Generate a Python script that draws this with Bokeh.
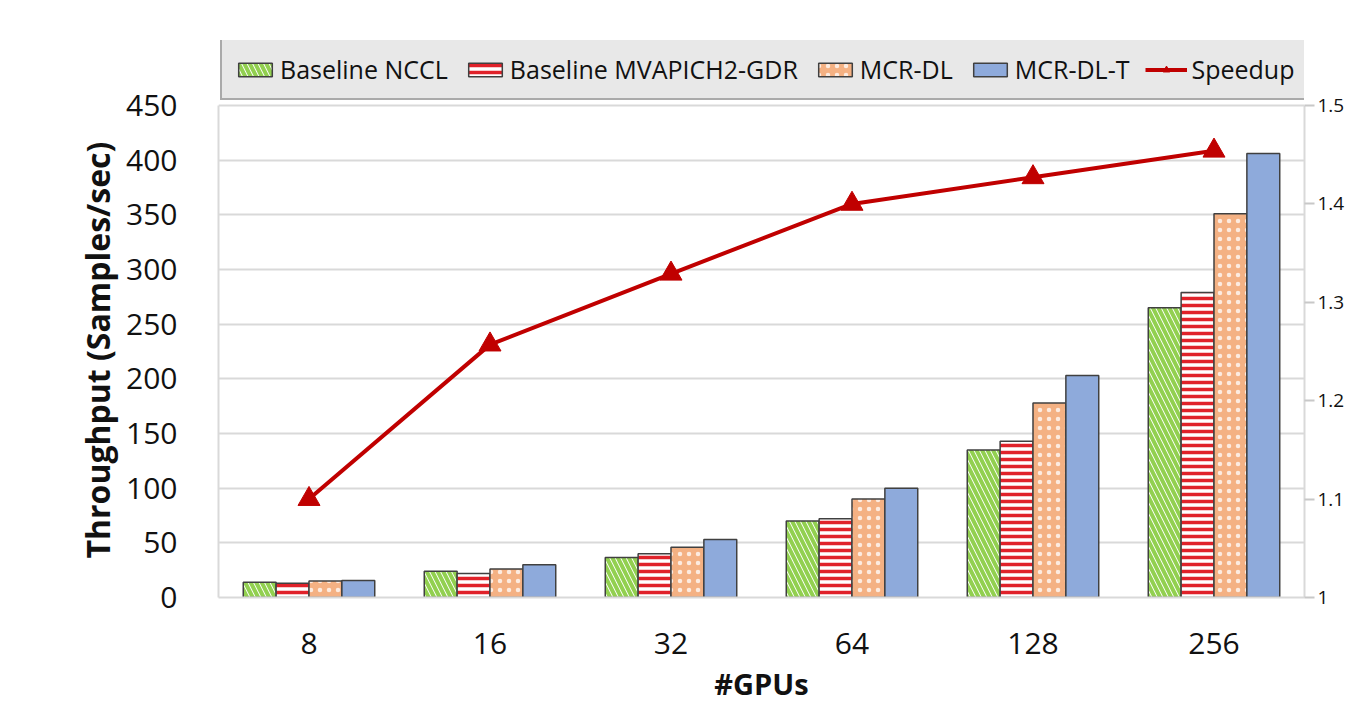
from bokeh.plotting import figure
from bokeh.models import (ColumnDataSource, FactorRange, Range1d, LinearAxis, FixedTicker,
                          Legend, LegendItem, Title)
from bokeh.transform import dodge
from bokeh.embed import file_html
from bokeh.resources import INLINE

gpus = ["8", "16", "32", "64", "128", "256"]
nccl = [14, 24, 36.5, 70, 135, 265]
mvapich = [13, 22, 40, 72, 143, 279]
mcrdl = [15, 26, 46, 90, 178, 351]
mcrdlt = [15.5, 30, 53, 100, 203, 406]
speedup = [1.10, 1.257, 1.329, 1.40, 1.427, 1.454]
y_ticks = [0, 50, 100, 150, 200, 250, 300, 350, 400, 450]
speedup_ticks = [1.0, 1.1, 1.2, 1.3, 1.4, 1.5]
labels = ["Baseline NCCL", "Baseline MVAPICH2-GDR", "MCR-DL", "MCR-DL-T", "Speedup"]
y_title = "Throughput (Samples/sec)"
x_title = "#GPUs"

src = ColumnDataSource(dict(g=gpus, nccl=nccl, mvapich=mvapich, mcrdl=mcrdl,
                            mcrdlt=mcrdlt, speedup=speedup))

FONT = "Open Sans"
W = 0.1816

# layout (pixels): axes area 492 px tall, extra 65 px above it for the legend
AXIS_PX, EXTRA_PX = 492, 65
Y0, Y1 = y_ticks[0], y_ticks[-1]
S0, S1 = speedup_ticks[0], speedup_ticks[-1]
y_end = Y0 + (Y1 - Y0) * (AXIS_PX + EXTRA_PX) / AXIS_PX
s_end = S0 + (S1 - S0) * (AXIS_PX + EXTRA_PX) / AXIS_PX

outline = dict(line_color="#404040", line_width=1.5)

p = figure(width=1347, height=705, x_range=FactorRange(factors=gpus),
           y_range=Range1d(Y0, y_end), output_backend="svg", toolbar_location=None,
           min_border_left=218, min_border_right=39, min_border_top=705 - 108 - AXIS_PX - EXTRA_PX,
           min_border_bottom=108)
p.outline_line_color = None
p.background_fill_color = "white"
p.extra_y_ranges = {"sp": Range1d(S0, s_end)}

r1 = p.vbar(x=dodge("g", -1.5 * W, range=p.x_range), top="nccl", width=W, source=src,
            fill_color="white", hatch_pattern="\\", hatch_color="#92d050",
            hatch_weight=4, hatch_scale=11, **outline)
r2 = p.vbar(x=dodge("g", -0.5 * W, range=p.x_range), top="mvapich", width=W, source=src,
            fill_color="white", hatch_pattern="-", hatch_color="#e0222a",
            hatch_weight=3.5, hatch_scale=7, **outline)
r3 = p.vbar(x=dodge("g", 0.5 * W, range=p.x_range), top="mcrdl", width=W, source=src,
            fill_color="#f4b183", hatch_pattern=".", hatch_color="white",
            hatch_weight=1.6, hatch_scale=9, hatch_alpha=0.75, **outline)
r4 = p.vbar(x=dodge("g", 1.5 * W, range=p.x_range), top="mcrdlt", width=W, source=src,
            fill_color="#8eaadb", **outline)
r5 = p.line(x="g", y="speedup", source=src, y_range_name="sp", line_color="#c00000",
            line_width=4)
r6 = p.scatter(x="g", y="speedup", source=src, y_range_name="sp", marker="triangle",
               size=22, fill_color="#c00000", line_color="#c00000")

p.yaxis.ticker = FixedTicker(ticks=y_ticks)
p.yaxis.bounds = (Y0, Y1)
for ax in (p.xaxis[0], p.yaxis[0]):
    ax.axis_line_color = "#d9d9d9"
    ax.axis_line_width = 2
    ax.major_tick_line_color = None
    ax.minor_tick_line_color = None
    ax.major_label_text_font = FONT
    ax.major_label_text_font_size = "30px"
    ax.major_label_text_color = "#111111"
    ax.axis_label_text_font = FONT
    ax.axis_label_text_font_style = "bold"
    ax.axis_label_text_color = "#111111"
p.yaxis.major_label_standoff = 35
p.xaxis.axis_label = x_title
p.xaxis.axis_label_text_font_size = "29px"
p.xaxis.major_label_standoff = 29
p.xaxis.axis_label_standoff = 7

# y title starting a little above the axis bottom, reading upward
p.add_layout(Title(text=y_title, align="left", offset=39, standoff=10,
                   text_font=FONT, text_font_size="32px", text_font_style="bold",
                   text_color="#111111"), "left")

right = LinearAxis(y_range_name="sp", ticker=FixedTicker(ticks=speedup_ticks),
                   bounds=(S0, S1),
                   axis_line_color="#d9d9d9", axis_line_width=2,
                   major_tick_line_color="#c8c8c8", major_tick_line_width=2,
                   major_tick_out=10, major_tick_in=0, minor_tick_line_color=None,
                   major_label_text_font=FONT, major_label_text_font_size="19px",
                   major_label_text_color="#111111", major_label_standoff=3)
p.add_layout(right, "right")

p.xgrid.grid_line_color = None
p.ygrid.grid_line_color = "#d9d9d9"
p.ygrid.grid_line_width = 2
p.ygrid.ticker = FixedTicker(ticks=y_ticks)

legend = Legend(items=[
    LegendItem(label=labels[0], renderers=[r1]),
    LegendItem(label=labels[1], renderers=[r2]),
    LegendItem(label=labels[2], renderers=[r3]),
    LegendItem(label=labels[3], renderers=[r4]),
    LegendItem(label=labels[4], renderers=[r5, r6]),
], orientation="horizontal", location=(2, AXIS_PX + 5), margin=0, padding=12,
    spacing=16, glyph_width=42, glyph_height=17, label_standoff=4,
    label_text_font=FONT, label_text_font_size="25px", label_text_color="#111111",
    background_fill_color="#e8e8e8", background_fill_alpha=1,
    border_line_color="#6b6b6b", border_line_width=2)
p.add_layout(legend, "center")

open("out.html", "w").write(file_html(p, INLINE))
